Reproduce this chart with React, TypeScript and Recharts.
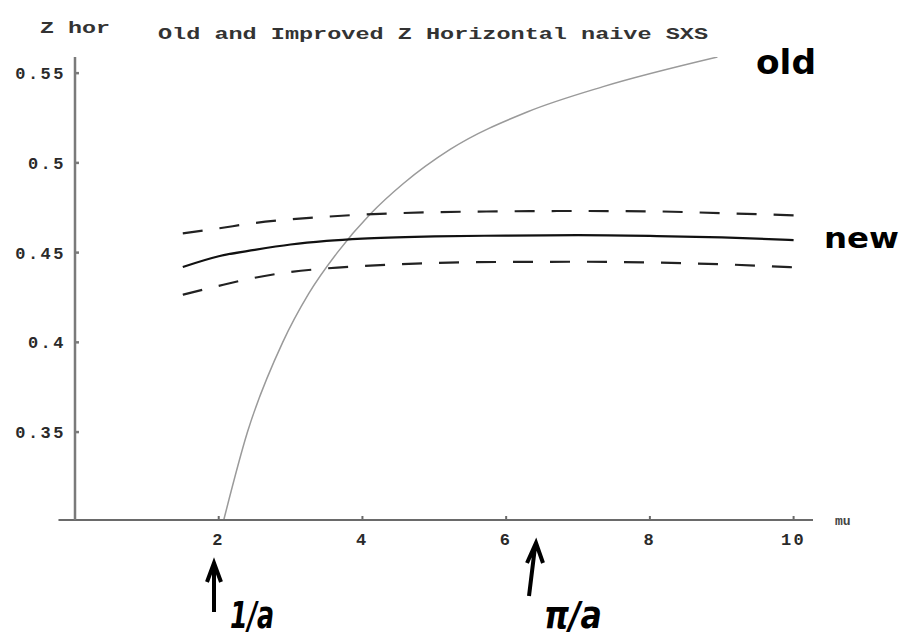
import React from 'react';
import { LineChart, Line, XAxis, YAxis, ReferenceLine } from 'recharts';

// old Z horizontal curve
const oldMu = [2.07, 2.4, 2.89, 3.25, 3.65, 4.11, 4.57, 5.22, 6.3, 7.35, 8.94];
const oldZ = [0.301, 0.35, 0.4, 0.427, 0.45, 0.4715, 0.4885, 0.5075, 0.5285, 0.5425, 0.559];

// improved curve with its band
const newMu = [1.5, 2, 2.5, 3, 3.5, 4, 5, 6, 7, 8, 9, 10];
const newZ = [0.442, 0.448, 0.4515, 0.4545, 0.4565, 0.4578, 0.459, 0.4595, 0.4597, 0.4593, 0.4585, 0.457];
const upperZ = [0.4607, 0.4635, 0.4665, 0.4685, 0.47, 0.4712, 0.4725, 0.473, 0.4732, 0.473, 0.472, 0.4708];
const lowerZ = [0.4265, 0.4315, 0.436, 0.4392, 0.4412, 0.4425, 0.4442, 0.4448, 0.4449, 0.4445, 0.4435, 0.4418];

const muTicks = [2, 4, 6, 8, 10];
const zTicks = [0.35, 0.4, 0.45, 0.5, 0.55];

const MU_MIN = 0;
const MU_MAX = 10.27;
const Z_MIN = 0.301;
const Z_MAX = 0.559;

const toPoints = (xs: number[], ys: number[]) => xs.map((mu, i) => ({ mu, z: ys[i] }));

const mono = '"Liberation Mono", "DejaVu Sans Mono", monospace';
const hand = '"DejaVu Sans", sans-serif';

const tickStyle = { fill: '#2a2a2a', fontFamily: mono, fontWeight: 700, fontSize: 17, letterSpacing: 2.5 };

export default function App() {
  const oldData = toPoints(oldMu, oldZ);
  const newData = toPoints(newMu, newZ);
  const upperData = toPoints(newMu, upperZ);
  const lowerData = toPoints(newMu, lowerZ);

  return (
    <div style={{ position: 'absolute', left: 0, top: 0, width: 904, height: 642, background: '#fff' }}>
      <LineChart width={904} height={642} margin={{ top: 57, right: 91, bottom: 92, left: 15 }}>
        <XAxis
          dataKey="mu"
          type="number"
          domain={[MU_MIN, MU_MAX]}
          ticks={muTicks}
          allowDataOverflow
          height={30}
          stroke="#6a6a6a"
          strokeWidth={2}
          tickSize={-4}
          tickMargin={17}
          tick={tickStyle}
        />
        <YAxis
          type="number"
          domain={[Z_MIN, Z_MAX]}
          ticks={zTicks}
          allowDataOverflow
          width={60}
          stroke="#7a7a7a"
          strokeWidth={2.5}
          tickSize={-4}
          tickMargin={13}
          tick={tickStyle}
        />
        <ReferenceLine
          segment={[{ x: -0.23, y: Z_MIN }, { x: MU_MIN, y: Z_MIN }]}
          ifOverflow="visible"
          stroke="#6a6a6a"
          strokeWidth={2}
        />
        <Line data={oldData} dataKey="z" type="monotone" stroke="#9a9a9a" strokeWidth={1.5} dot={false} isAnimationActive={false} />
        <Line data={upperData} dataKey="z" type="monotone" stroke="#222" strokeWidth={2.2} strokeDasharray="20 17" dot={false} isAnimationActive={false} />
        <Line data={lowerData} dataKey="z" type="monotone" stroke="#222" strokeWidth={2.2} strokeDasharray="20 17" dot={false} isAnimationActive={false} />
        <Line data={newData} dataKey="z" type="monotone" stroke="#111" strokeWidth={2.2} dot={false} isAnimationActive={false} />
      </LineChart>

      {/* titles, axis labels and the handwritten notes */}
      <svg width={904} height={642} style={{ position: 'absolute', left: 0, top: 0, pointerEvents: 'none' }}>
        <text x={40} y={33} fontFamily={mono} fontWeight={700} fontSize={17} fill="#333" textLength={70} lengthAdjust="spacingAndGlyphs">
          Z hor
        </text>
        <text x={158} y={39} fontFamily={mono} fontWeight={700} fontSize={17} fill="#333" textLength={550} lengthAdjust="spacingAndGlyphs">
          Old and Improved Z Horizontal naive SXS
        </text>
        <text x={835} y={525} fontFamily={mono} fontWeight={700} fontSize={13} fill="#444">
          mu
        </text>

        <text x={756} y={74} fontFamily={hand} fontWeight={700} fontSize={34} fill="#000" textLength={60} lengthAdjust="spacingAndGlyphs">old</text>
        <text x={824} y={248} fontFamily={hand} fontWeight={700} fontSize={28} fill="#000" textLength={75} lengthAdjust="spacingAndGlyphs">new</text>

        <path d="M214 612 L214 566 M207 582 L214 563 L221 582" stroke="#000" strokeWidth={4} fill="none" />
        <text x={230} y={628} fontFamily={hand} fontWeight={700} fontStyle="italic" fontSize={38} fill="#000" textLength={44} lengthAdjust="spacingAndGlyphs">1/a</text>

        <path d="M529 596 L535 547 M527 563 L536 543 L543 563" stroke="#000" strokeWidth={4} fill="none" />
        <text x={544} y={628} fontFamily={hand} fontWeight={700} fontStyle="italic" fontSize={38} fill="#000" textLength={58} lengthAdjust="spacingAndGlyphs">π/a</text>
      </svg>
    </div>
  );
}
